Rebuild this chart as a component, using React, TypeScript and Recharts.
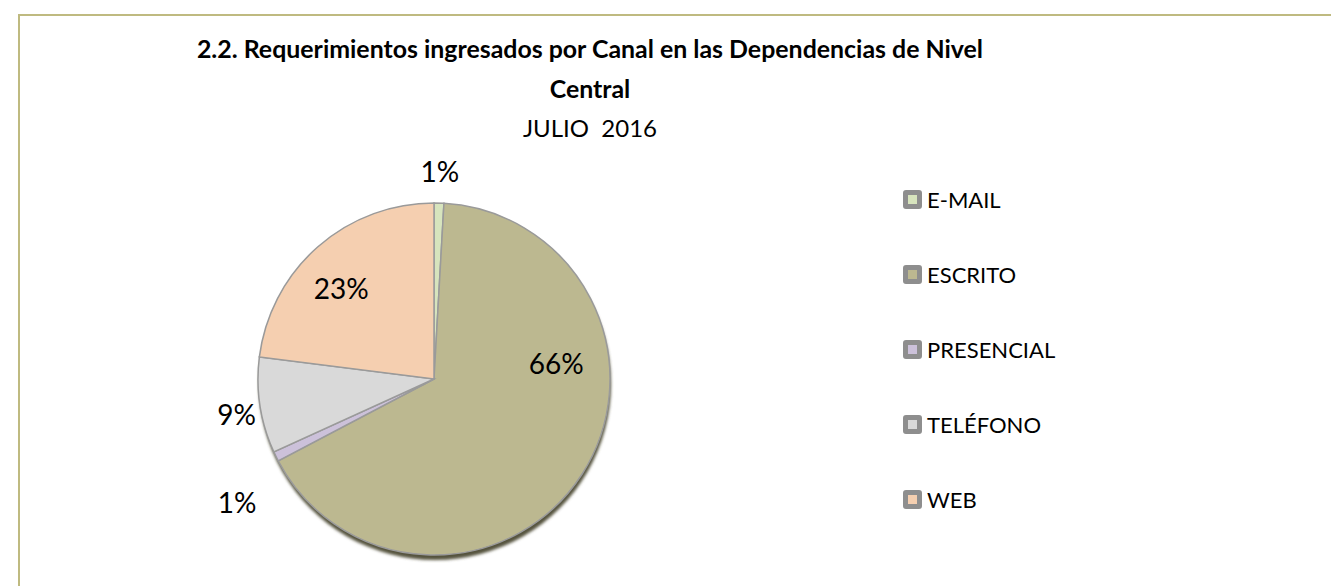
import { PieChart, Pie, Cell, Legend } from "recharts";

const canales = ["E-MAIL", "ESCRITO", "PRESENCIAL", "TELÉFONO", "WEB"];
const porcentajes = [0.9, 66.4, 0.9, 8.8, 23.0];
const colores = ["#d7e4bd", "#bcb890", "#ccc1da", "#d9d9d9", "#f5cfb0"];
const titulo = ["2.2. Requerimientos ingresados por Canal en las Dependencias de Nivel", "Central"];
const subtitulo = "JULIO  2016";

const data = canales.map((name, i) => ({ name, value: porcentajes[i] }));
const sombra = [{ name: "sombra", value: 1 }];

const FONT = "Lato, 'Open Sans', sans-serif";
const W = 1331;
const H = 586;
const CX = 434;
const CY = 379;
const R = 176;
const RAD = Math.PI / 180;

// label placement like Excel's "best fit": r = factor of the radius, shift = degrees
const labelPos: Record<string, { r: number; shift: number }> = {
  "E-MAIL": { r: 1.18, shift: 0 },
  ESCRITO: { r: 0.7, shift: 40 },
  PRESENCIAL: { r: 1.32, shift: 6 },
  "TELÉFONO": { r: 1.14, shift: 1.5 },
  WEB: { r: 0.74, shift: 4 },
};

const renderLabel = (props: any) => {
  const { cx, cy, midAngle, outerRadius, percent, name } = props;
  const p = labelPos[name] || { r: 0.7, shift: 0 };
  const a = (midAngle + p.shift) * RAD;
  const x = cx + Math.cos(-a) * outerRadius * p.r;
  const y = cy + Math.sin(-a) * outerRadius * p.r;
  return (
    <text
      x={x}
      y={y}
      textAnchor="middle"
      dominantBaseline="central"
      fill="#000"
      fontSize={28}
      fontFamily={FONT}
    >
      {`${Math.round(percent * 100)}%`}
    </text>
  );
};

const LegendList = () => (
  <div style={{ fontFamily: FONT, fontSize: 22, color: "#000" }}>
    {data.map((d, i) => (
      <div key={d.name} style={{ display: "flex", alignItems: "center", height: 75 }}>
        <span
          style={{
            width: 9,
            height: 9,
            background: colores[i],
            border: "5px solid #8e8e8e",
            borderRadius: 3,
            marginRight: 5,
          }}
        />
        {d.name}
      </div>
    ))}
  </div>
);

export default function App() {
  return (
    <div
      style={{
        position: "absolute",
        left: 0,
        top: 0,
        width: W,
        height: H,
        overflow: "hidden",
        background: "#fff",
      }}
    >
      <div
        style={{
          position: "absolute",
          left: 18,
          top: 14,
          width: W,
          height: H,
          border: "2px solid #bfba80",
        }}
      />
      <div
        style={{
          position: "absolute",
          left: 90,
          width: 1000,
          top: 28,
          textAlign: "center",
          fontFamily: FONT,
          color: "#000",
        }}
      >
        {titulo.map((t) => (
          <div key={t} style={{ fontSize: 24.9, fontWeight: 700, lineHeight: "40px" }}>
            {t}
          </div>
        ))}
        <div style={{ fontSize: 24, lineHeight: "40px", whiteSpace: "pre" }}>{subtitulo}</div>
      </div>
      <PieChart
        width={W}
        height={H}
        margin={{ top: 0, right: 0, bottom: 0, left: 0 }}
        style={{ position: "absolute", left: 0, top: 0 }}
      >
        <defs>
          <filter id="blurSombra" x="-10%" y="-10%" width="120%" height="120%">
            <feGaussianBlur stdDeviation="1.5" />
          </filter>
        </defs>
        <Pie
          data={sombra}
          dataKey="value"
          cx={CX + 1}
          cy={CY + 5}
          outerRadius={R}
          startAngle={90}
          endAngle={-270}
          stroke="none"
          fill="#55523e"
          filter="url(#blurSombra)"
          legendType="none"
          isAnimationActive={false}
        />
        <Pie
          data={data}
          dataKey="value"
          nameKey="name"
          cx={CX}
          cy={CY}
          outerRadius={R}
          startAngle={90}
          endAngle={-270}
          stroke="#9a9a9a"
          strokeWidth={1.5}
          label={renderLabel}
          labelLine={false}
          isAnimationActive={false}
        >
          {data.map((d, i) => (
            <Cell key={d.name} fill={colores[i]} />
          ))}
        </Pie>
        <Legend
          content={<LegendList />}
          wrapperStyle={{ position: "absolute", left: 903, top: 162, width: 300 }}
        />
      </PieChart>
    </div>
  );
}
